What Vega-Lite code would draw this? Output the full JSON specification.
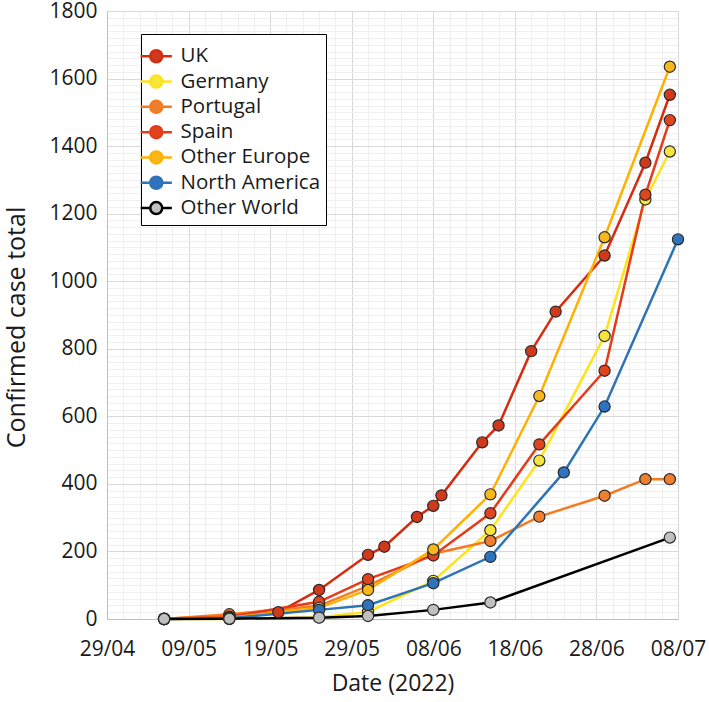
{
  "$schema": "https://vega.github.io/schema/vega-lite/v6.json",
  "width": 571,
  "height": 608,
  "autosize": {"type": "none"},
  "padding": {"left": 107, "top": 11, "right": 31, "bottom": 83},
  "background": "white",
  "config": {
    "view": {"stroke": "#d9d9d9", "strokeWidth": 1},
    "font": "Open Sans",
    "axis": {"labelFont": "Open Sans", "titleFont": "Open Sans", "labelColor": "#1a1a1a", "titleColor": "#1a1a1a", "titleFontWeight": "normal", "labelOverlap": false}
  },
  "data": {
    "values": [
      {"series": "UK", "date": "2022-05-06T00:00:00", "cases": 1},
      {"series": "UK", "date": "2022-05-14T00:00:00", "cases": 9},
      {"series": "UK", "date": "2022-05-20T00:00:00", "cases": 20},
      {"series": "UK", "date": "2022-05-25T00:00:00", "cases": 86},
      {"series": "UK", "date": "2022-05-31T00:00:00", "cases": 190},
      {"series": "UK", "date": "2022-06-02T00:00:00", "cases": 214},
      {"series": "UK", "date": "2022-06-06T00:00:00", "cases": 302},
      {"series": "UK", "date": "2022-06-08T00:00:00", "cases": 335},
      {"series": "UK", "date": "2022-06-09T00:00:00", "cases": 366},
      {"series": "UK", "date": "2022-06-14T00:00:00", "cases": 523},
      {"series": "UK", "date": "2022-06-16T00:00:00", "cases": 573},
      {"series": "UK", "date": "2022-06-20T00:00:00", "cases": 793},
      {"series": "UK", "date": "2022-06-23T00:00:00", "cases": 910},
      {"series": "UK", "date": "2022-06-29T00:00:00", "cases": 1076},
      {"series": "UK", "date": "2022-07-04T00:00:00", "cases": 1351},
      {"series": "UK", "date": "2022-07-07T00:00:00", "cases": 1552},
      {"series": "Germany", "date": "2022-05-06T00:00:00", "cases": 0},
      {"series": "Germany", "date": "2022-05-14T00:00:00", "cases": 0},
      {"series": "Germany", "date": "2022-05-25T00:00:00", "cases": 5},
      {"series": "Germany", "date": "2022-05-31T00:00:00", "cases": 21},
      {"series": "Germany", "date": "2022-06-08T00:00:00", "cases": 113},
      {"series": "Germany", "date": "2022-06-15T00:00:00", "cases": 263},
      {"series": "Germany", "date": "2022-06-21T00:00:00", "cases": 469},
      {"series": "Germany", "date": "2022-06-29T00:00:00", "cases": 838},
      {"series": "Germany", "date": "2022-07-04T00:00:00", "cases": 1242},
      {"series": "Germany", "date": "2022-07-07T00:00:00", "cases": 1384},
      {"series": "Portugal", "date": "2022-05-06T00:00:00", "cases": 0},
      {"series": "Portugal", "date": "2022-05-14T00:00:00", "cases": 14},
      {"series": "Portugal", "date": "2022-05-25T00:00:00", "cases": 39},
      {"series": "Portugal", "date": "2022-05-31T00:00:00", "cases": 98},
      {"series": "Portugal", "date": "2022-06-08T00:00:00", "cases": 193},
      {"series": "Portugal", "date": "2022-06-15T00:00:00", "cases": 231},
      {"series": "Portugal", "date": "2022-06-21T00:00:00", "cases": 303},
      {"series": "Portugal", "date": "2022-06-29T00:00:00", "cases": 365},
      {"series": "Portugal", "date": "2022-07-04T00:00:00", "cases": 414},
      {"series": "Portugal", "date": "2022-07-07T00:00:00", "cases": 414},
      {"series": "Spain", "date": "2022-05-06T00:00:00", "cases": 0},
      {"series": "Spain", "date": "2022-05-14T00:00:00", "cases": 7},
      {"series": "Spain", "date": "2022-05-25T00:00:00", "cases": 51},
      {"series": "Spain", "date": "2022-05-31T00:00:00", "cases": 118},
      {"series": "Spain", "date": "2022-06-08T00:00:00", "cases": 188},
      {"series": "Spain", "date": "2022-06-15T00:00:00", "cases": 313},
      {"series": "Spain", "date": "2022-06-21T00:00:00", "cases": 517},
      {"series": "Spain", "date": "2022-06-29T00:00:00", "cases": 735},
      {"series": "Spain", "date": "2022-07-04T00:00:00", "cases": 1256},
      {"series": "Spain", "date": "2022-07-07T00:00:00", "cases": 1477},
      {"series": "Other Europe", "date": "2022-05-06T00:00:00", "cases": 0},
      {"series": "Other Europe", "date": "2022-05-14T00:00:00", "cases": 4},
      {"series": "Other Europe", "date": "2022-05-25T00:00:00", "cases": 33},
      {"series": "Other Europe", "date": "2022-05-31T00:00:00", "cases": 86},
      {"series": "Other Europe", "date": "2022-06-08T00:00:00", "cases": 206},
      {"series": "Other Europe", "date": "2022-06-15T00:00:00", "cases": 369},
      {"series": "Other Europe", "date": "2022-06-21T00:00:00", "cases": 660},
      {"series": "Other Europe", "date": "2022-06-29T00:00:00", "cases": 1130},
      {"series": "Other Europe", "date": "2022-07-07T00:00:00", "cases": 1635},
      {"series": "North America", "date": "2022-05-06T00:00:00", "cases": 0},
      {"series": "North America", "date": "2022-05-14T00:00:00", "cases": 2},
      {"series": "North America", "date": "2022-05-25T00:00:00", "cases": 27},
      {"series": "North America", "date": "2022-05-31T00:00:00", "cases": 41},
      {"series": "North America", "date": "2022-06-08T00:00:00", "cases": 106},
      {"series": "North America", "date": "2022-06-15T00:00:00", "cases": 184},
      {"series": "North America", "date": "2022-06-24T00:00:00", "cases": 434},
      {"series": "North America", "date": "2022-06-29T00:00:00", "cases": 629},
      {"series": "North America", "date": "2022-07-08T00:00:00", "cases": 1124},
      {"series": "Other World", "date": "2022-05-06T00:00:00", "cases": 0},
      {"series": "Other World", "date": "2022-05-14T00:00:00", "cases": 1},
      {"series": "Other World", "date": "2022-05-25T00:00:00", "cases": 4},
      {"series": "Other World", "date": "2022-05-31T00:00:00", "cases": 9},
      {"series": "Other World", "date": "2022-06-08T00:00:00", "cases": 27},
      {"series": "Other World", "date": "2022-06-15T00:00:00", "cases": 49},
      {"series": "Other World", "date": "2022-07-07T00:00:00", "cases": 241}
    ]
  },
  "resolve": {"axis": {"x": "independent", "y": "independent"}},
  "layer": [
    {
      "mark": {"type": "line", "strokeWidth": 2.5},
      "encoding": {
        "x": {
          "field": "date", "type": "temporal",
          "scale": {"domain": [{"year": 2022, "month": 4, "date": 29}, {"year": 2022, "month": 7, "date": 8}], "nice": false},
          "axis": {
            "orient": "bottom", "labels": false, "ticks": false, "domain": false, "title": null,
            "grid": true, "gridColor": "#efefef", "gridWidth": 1,
            "values": [
              {"year": 2022, "month": 5, "date": 1}, {"year": 2022, "month": 5, "date": 3}, {"year": 2022, "month": 5, "date": 5},
              {"year": 2022, "month": 5, "date": 7}, {"year": 2022, "month": 5, "date": 11}, {"year": 2022, "month": 5, "date": 13},
              {"year": 2022, "month": 5, "date": 15}, {"year": 2022, "month": 5, "date": 17}, {"year": 2022, "month": 5, "date": 21},
              {"year": 2022, "month": 5, "date": 23}, {"year": 2022, "month": 5, "date": 25}, {"year": 2022, "month": 5, "date": 27},
              {"year": 2022, "month": 5, "date": 31}, {"year": 2022, "month": 6, "date": 2}, {"year": 2022, "month": 6, "date": 4},
              {"year": 2022, "month": 6, "date": 6}, {"year": 2022, "month": 6, "date": 10}, {"year": 2022, "month": 6, "date": 12},
              {"year": 2022, "month": 6, "date": 14}, {"year": 2022, "month": 6, "date": 16}, {"year": 2022, "month": 6, "date": 20},
              {"year": 2022, "month": 6, "date": 22}, {"year": 2022, "month": 6, "date": 24}, {"year": 2022, "month": 6, "date": 26},
              {"year": 2022, "month": 6, "date": 30}, {"year": 2022, "month": 7, "date": 2}, {"year": 2022, "month": 7, "date": 4},
              {"year": 2022, "month": 7, "date": 6}
            ]
          }
        },
        "y": {
          "field": "cases", "type": "quantitative",
          "scale": {"domain": [0, 1800], "nice": false},
          "axis": {
            "orient": "left", "labels": false, "ticks": false, "domain": false, "title": null,
            "grid": true, "gridColor": "#efefef", "gridWidth": 1,
            "values": [20,40,60,80,100,120,140,160,180,220,240,260,280,300,320,340,360,380,420,440,460,480,500,520,540,560,580,620,640,660,680,700,720,740,760,780,820,840,860,880,900,920,940,960,980,1020,1040,1060,1080,1100,1120,1140,1160,1180,1220,1240,1260,1280,1300,1320,1340,1360,1380,1420,1440,1460,1480,1500,1520,1540,1560,1580,1620,1640,1660,1680,1700,1720,1740,1760,1780]
          }
        },
        "stroke": {
          "field": "series", "type": "nominal",
          "scale": {
            "domain": ["UK", "Germany", "Portugal", "Spain", "Other Europe", "North America", "Other World"],
            "range": ["#d42c10", "#ffe31a", "#f47b20", "#e63a18", "#ffb000", "#2e74b5", "#000000"]
          },
          "legend": {
            "orient": "none", "legendX": 34, "legendY": 23, "title": " ", "titleFontSize": 4, "titlePadding": 3,
            "symbolType": "M-2.6,0L-1,0M1,0L2.6,0M-1,0A1,1,0,1,0,1,0A1,1,0,1,0,-1,0",
            "symbolSize": 144, "symbolStrokeWidth": 2.5,
            "labelFont": "Open Sans", "labelFontSize": 20.5, "labelColor": "#1a1a1a", "labelOffset": 14, "labelLimit": 300,
            "padding": 5, "rowPadding": 2.3, "fillColor": "white", "strokeColor": "#000000"
          }
        }
      }
    },
    {
      "mark": {"type": "point", "filled": true, "size": 125, "stroke": "#2a2a2a", "strokeWidth": 1.2, "opacity": 1},
      "encoding": {
        "x": {
          "field": "date", "type": "temporal",
          "axis": {
            "orient": "bottom", "format": "%d/%m", "grid": true, "gridColor": "#d9d9d9", "gridWidth": 1,
            "ticks": false, "tickSize": 0, "domainColor": "#bfbfbf", "domainWidth": 1,
            "labelFontSize": 21, "labelPadding": 19, "labelFlush": false,
            "title": "Date (2022)", "titleFontSize": 23, "titlePadding": 13,
            "values": [
              {"year": 2022, "month": 4, "date": 29}, {"year": 2022, "month": 5, "date": 9}, {"year": 2022, "month": 5, "date": 19},
              {"year": 2022, "month": 5, "date": 29}, {"year": 2022, "month": 6, "date": 8}, {"year": 2022, "month": 6, "date": 18},
              {"year": 2022, "month": 6, "date": 28}, {"year": 2022, "month": 7, "date": 8}
            ]
          }
        },
        "y": {
          "field": "cases", "type": "quantitative",
          "axis": {
            "orient": "left", "format": "d", "grid": true, "gridColor": "#d9d9d9", "gridWidth": 1,
            "ticks": false, "tickSize": 0, "domainColor": "#bfbfbf", "domainWidth": 1,
            "labelFontSize": 21, "labelPadding": 10,
            "title": "Confirmed case total", "titleFontSize": 25,
            "titleX": -83, "titleY": 316, "titleBaseline": "alphabetic", "titleAngle": 270, "titleAlign": "center",
            "values": [0, 200, 400, 600, 800, 1000, 1200, 1400, 1600, 1800]
          }
        },
        "fill": {
          "field": "series", "type": "nominal",
          "scale": {
            "domain": ["UK", "Germany", "Portugal", "Spain", "Other Europe", "North America", "Other World"],
            "range": ["#d0391b", "#f7e43c", "#ef7e2f", "#e0441e", "#f8b81c", "#2f73bf", "#c0c0c0"]
          },
          "legend": {
            "orient": "none", "legendX": 34, "legendY": 23, "title": " ", "titleFontSize": 4, "titlePadding": 3,
            "symbolType": "M-2.6,0L-1,0M1,0L2.6,0M-1,0A1,1,0,1,0,1,0A1,1,0,1,0,-1,0",
            "symbolSize": 144, "symbolStrokeWidth": 2.5,
            "labelFont": "Open Sans", "labelFontSize": 20.5, "labelColor": "#1a1a1a", "labelOffset": 14, "labelLimit": 300,
            "padding": 5, "rowPadding": 2.3, "fillColor": "white", "strokeColor": "#000000"
          }
        }
      }
    }
  ]
}
